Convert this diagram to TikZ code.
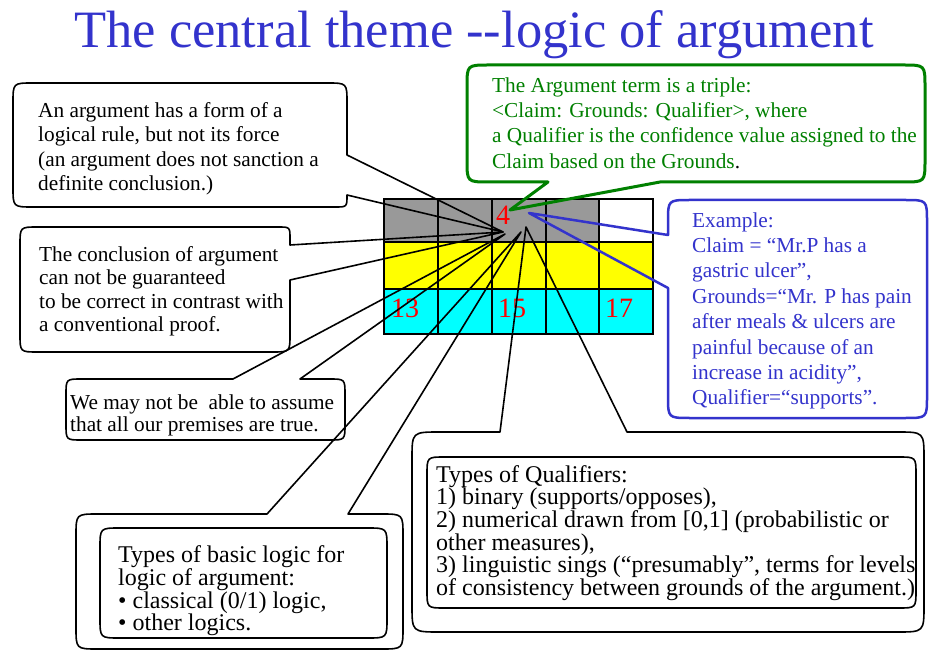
\documentclass[tikz,border=0pt]{standalone}
\usepackage{fontspec}
\setmainfont{Liberation Serif}
\definecolor{ttlblue}{RGB}{51,51,204}
\definecolor{cgreen}{RGB}{0,128,0}
\definecolor{cgray}{RGB}{153,153,153}
\definecolor{cyel}{RGB}{255,255,0}
\definecolor{ccyan}{RGB}{0,255,255}
\definecolor{cred}{RGB}{255,0,0}
\newcommand\fl{\rule{0pt}{0.75em}}
\begin{document}
\begin{tikzpicture}[x=1pt,y=-1pt,
  callout/.style={draw=black,line width=1.6pt,line join=round},
  gcallout/.style={draw=cgreen,line width=3pt,line join=round},
  bcallout/.style={draw=ttlblue,line width=2.5pt,line join=round},
  gridline/.style={draw=black,line width=2pt},
  txt/.style={anchor=north west,inner sep=0pt,align=left},
  num/.style={anchor=base,inner sep=0pt,text=cred,font=\fontsize{28}{30}\selectfont}]
\useasboundingbox (0,0) rectangle (929,652);
\fill[white] (0,0) rectangle (929,652);

% title
\node[anchor=base,inner sep=0pt,text=ttlblue,font=\fontsize{52.5}{60}\selectfont] (title) at (474,48) {The central theme -\kern0pt-logic of argument};

% grid
\fill[cgray] (384,199) rectangle (599,242);
\fill[white] (599,199) rectangle (653,242);
\fill[cyel] (384,242) rectangle (653,289);
\fill[ccyan] (384,289) rectangle (653,334);
\foreach \x in {384,438,492,546,599,653} \draw[gridline] (\x,199) -- (\x,334);
\foreach \y in {199,242,289,334} \draw[gridline] (383,\y) -- (654,\y);
\node[num] (n4) at (503,225) {4};
\node[num] (n13) at (405,317) {13};
\node[num] (n15) at (512,317) {15};
\node[num] (n17) at (619,317) {17};

% pointer tips
\coordinate (t1) at (503,232);
\coordinate (t2) at (503,232);
\coordinate (t3) at (505,234);
\coordinate (t4) at (521,232);
\coordinate (t5) at (526,227);
\coordinate (tg) at (510,210);
\coordinate (tb) at (529,213);

% callout 1
\draw[callout] (33,83) -- (327,83) .. controls (347,83) .. (347,103) -- (347,155) -- (t1) -- (347,195) .. controls (347,207) .. (335,207) -- (33,207) .. controls (13,207) .. (13,187) -- (13,103) .. controls (13,83) .. (33,83) -- cycle;
\node[txt,font=\fontsize{21.3}{24.5}\selectfont] (c1) at (38,101) {\fl An argument has a form of a\\logical rule, but not its force\\(an argument does not sanction a\\definite conclusion.)};

% callout 2
\draw[callout] (38,227) -- (278,227) .. controls (290,227) .. (290,239) -- (290,245) -- (t2) -- (290,280) -- (290,334) .. controls (290,352) .. (272,352) -- (38,352) .. controls (20,352) .. (20,334) -- (20,245) .. controls (20,227) .. (38,227) -- cycle;
\node[txt,font=\fontsize{21.3}{23.5}\selectfont] (c2) at (39,245) {\fl The conclusion of argument\\can not be guaranteed\\to be correct in contrast with\\a conventional proof.};

% callout 3
\draw[callout] (82,379) -- (233,379) -- (t3) -- (300,379) -- (329,379) .. controls (345,379) .. (345,395) -- (345,424) .. controls (345,440) .. (329,440) -- (82,440) .. controls (66,440) .. (66,424) -- (66,395) .. controls (66,379) .. (82,379) -- cycle;
\node[txt,font=\fontsize{21.3}{22.5}\selectfont] (c3) at (70,393) {\fl We may not be~ able to assume\\that all our premises are true.};

% callout 4
\draw[callout] (98,514) -- (267,514) -- (t4) -- (348,514) -- (381,514) .. controls (403,514) .. (403,536) -- (403,627) .. controls (403,649) .. (381,649) -- (98,649) .. controls (76,649) .. (76,627) -- (76,536) .. controls (76,514) .. (98,514) -- cycle;
\draw[callout] (120,528) -- (367,528) .. controls (387,528) .. (387,548) -- (387,618) .. controls (387,638) .. (367,638) -- (120,638) .. controls (100,638) .. (100,618) -- (100,548) .. controls (100,528) .. (120,528) -- cycle;
\node[txt,font=\fontsize{24}{21.7}\selectfont] (c4) at (118,544) {\fl Types of basic logic for\\logic of argument:\\• classical (0/1) logic,\\• other logics.};

% callout 5
\draw[callout] (440,432) -- (500,432) -- (t5) -- (627,432) -- (897,432) .. controls (924,432) .. (924,459) -- (924,605) .. controls (924,632) .. (897,632) -- (440,632) .. controls (412,632) .. (412,605) -- (412,459) .. controls (412,432) .. (440,432) -- cycle;
\draw[callout] (445,457) -- (898,457) .. controls (916,457) .. (916,475) -- (916,590) .. controls (916,608) .. (898,608) -- (445,608) .. controls (427,608) .. (427,590) -- (427,475) .. controls (427,457) .. (445,457) -- cycle;
\node[txt,font=\fontsize{24}{22.6}\selectfont] (c5) at (436,464) {\fl Types of Qualifiers:\\1) binary (supports/opposes),\\2) numerical drawn from [0,1] (probabilistic or\\other measures),\\3) linguistic sings (“presumably”, terms for levels\\of consistency between grounds of the argument.)};

% green callout
\draw[gcallout] (489,65) -- (903,65) .. controls (925,65) .. (925,87) -- (925,160) .. controls (925,182) .. (903,182) -- (660,182) -- (tg) -- (548,182) -- (489,182) .. controls (467,182) .. (467,160) -- (467,87) .. controls (467,65) .. (489,65) -- cycle;
\node[txt,text=cgreen,font=\fontsize{21.3}{25.4}\selectfont] (cg) at (492,76) {\fl The Argument term is a triple:\\<Claim: Grounds: Qualifier>, where\\a Qualifier is the confidence value assigned to the\\Claim based on the Grounds\textcolor{black}{.}};

% blue callout
\draw[bcallout] (690,200) -- (905,200) .. controls (927,200) .. (927,222) -- (927,396) .. controls (927,418) .. (905,418) -- (690,418) .. controls (668,418) .. (668,396) -- (668,288) -- (tb) -- (668,235) -- (668,222) .. controls (668,200) .. (690,200) -- cycle;
\node[txt,text=ttlblue,font=\fontsize{21.3}{25.4}\selectfont] (cb) at (692,211) {\fl Example:\\Claim = “Mr.P has a\\gastric ulcer”,\\Grounds=“Mr. P has pain\\after meals \& ulcers are\\painful because of an\\increase in acidity”,\\Qualifier=“supports”.};
\end{tikzpicture}
\end{document}
